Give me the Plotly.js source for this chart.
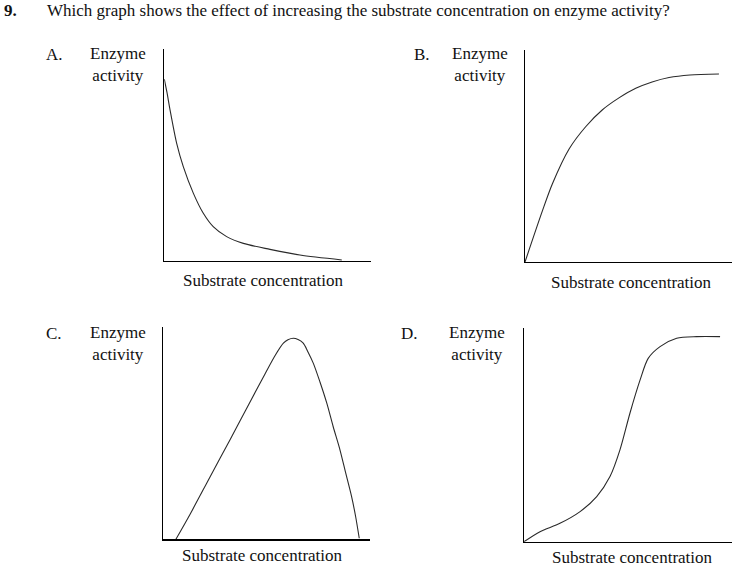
<!DOCTYPE html>
<html>
<head>
<meta charset="utf-8">
<script src="https://cdn.plot.ly/plotly-3.0.1.min.js"></script>
<style>
html,body{margin:0;padding:0;background:#fff;}
#chart{width:738px;height:567px;}
#chart .annotation-text, #chart .annotation-text tspan{font-family:'Liberation Serif','Tinos',serif !important;}
</style>
</head>
<body>
<div id="chart"></div>
<script>
// Data (arbitrary units, axes 0-10)
const aX = [0, 0.13, 0.28, 0.60, 0.92, 1.41, 1.89, 2.37, 3.02, 3.83, 5.12, 6.57, 8.6];
const aY = [8.58, 7.95, 7.12, 5.55, 4.45, 3.19, 2.25, 1.62, 1.15, 0.83, 0.55, 0.28, 0.05];
const bX = [0, 0.84, 1.32, 2.13, 2.93, 3.73, 4.54, 5.35, 6.14, 6.96, 7.97, 9.37];
const bY = [0, 2.41, 3.68, 5.33, 6.38, 7.17, 7.74, 8.19, 8.49, 8.70, 8.82, 8.87];
const cX = [0.61, 1.29, 2.26, 3.23, 4.19, 4.92, 5.41, 5.81, 6.03, 6.29, 6.52, 6.77, 7.00, 7.26, 7.58, 7.91, 8.22, 8.55, 8.82, 9.11, 9.30, 9.48];
const cY = [0, 1.17, 2.94, 4.70, 6.47, 7.80, 8.67, 9.25, 9.41, 9.48, 9.42, 9.25, 8.84, 8.30, 7.42, 6.42, 5.31, 4.21, 3.14, 2.01, 1.10, 0.05];
const dX = [0, 0.77, 1.73, 2.70, 3.50, 4.14, 4.62, 5.10, 5.59, 5.98, 6.55, 7.35, 8.31, 9.44];
const dY = [0, 0.47, 0.86, 1.41, 2.11, 3.05, 4.30, 6.02, 7.58, 8.59, 9.14, 9.53, 9.61, 9.61];

const question = "Which graph shows the effect of increasing the substrate concentration on enzyme activity?";
const qNum = "9.";
const optionLabels = ["A.", "B.", "C.", "D."];
const yLabel = "Enzyme<br>activity";
const xLabel = "Substrate concentration";

const W = 738, H = 567;
const px = v => v / W;
const py = v => 1 - v / H;
const mkFont = () => ({family: 'Liberation Serif', size: 17, color: '#111'});

const lineStyle = () => ({color: '#2a2a2a', width: 1.1, shape: 'spline', smoothing: 0.8});
const traces = [
  {x: aX, y: aY, xaxis: 'x', yaxis: 'y', mode: 'lines', line: lineStyle()},
  {x: bX, y: bY, xaxis: 'x2', yaxis: 'y2', mode: 'lines', line: lineStyle()},
  {x: cX, y: cY, xaxis: 'x3', yaxis: 'y3', mode: 'lines', line: lineStyle()},
  {x: dX, y: dY, xaxis: 'x4', yaxis: 'y4', mode: 'lines', line: lineStyle()}
];

function ax(d, anchor) {
  return {domain: d, anchor: anchor, range: [0, 10], showline: true, linecolor: '#000', linewidth: 1.3,
    showgrid: false, zeroline: false, showticklabels: false, ticks: '', fixedrange: true};
}
const boxes = [[164.3, 370.7, 49, 261], [525, 732, 50, 262], [163.3, 370, 327.3, 539.3], [524, 731.7, 328.3, 541.7]];
const layout = {
  width: W, height: H, margin: {l: 0, r: 0, t: 0, b: 0},
  paper_bgcolor: '#fff', plot_bgcolor: 'rgba(0,0,0,0)', showlegend: false
};
boxes.forEach((b, i) => {
  const n = i === 0 ? '' : String(i + 1);
  layout['xaxis' + n] = ax([px(b[0]), px(b[1])], 'y' + n);
  layout['yaxis' + n] = ax([py(b[3]), py(b[2])], 'x' + n);
});

const ann = [];
function t(text, x, y, anchorY) {
  ann.push({text: text, xref: 'paper', yref: 'paper', x: px(x), y: py(y), xanchor: 'left', yanchor: anchorY || 'middle', showarrow: false, font: mkFont()});
}
t('<b>' + qNum + '</b>', 2, 10);
t(question, 45, 10);
const labPos = [[44, 88, 54, 181, 280], [412, 450, 54, 549, 282], [44, 88, 333, 180, 555], [399, 447, 333, 550, 557]];
labPos.forEach((p, i) => {
  t(optionLabels[i], p[0], p[2]);
  t(yLabel, p[1], p[2] - 12, 'top');
  t(xLabel, p[3], p[4]);
});
layout.annotations = ann;

Plotly.newPlot('chart', traces, layout, {staticPlot: true});
</script>
</body>
</html>
